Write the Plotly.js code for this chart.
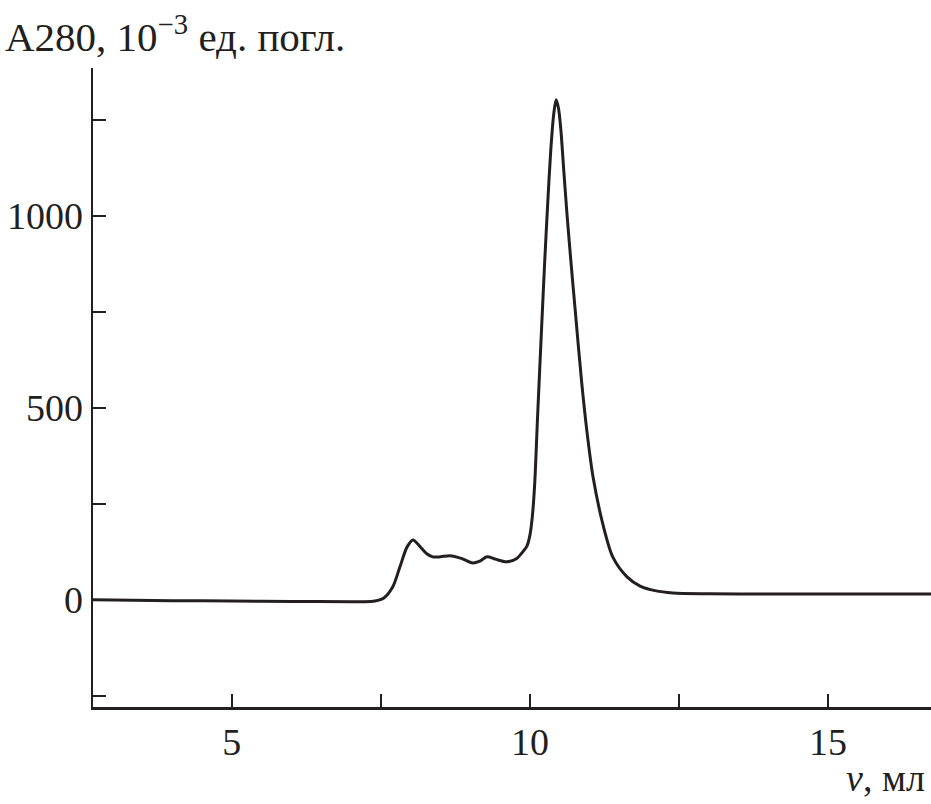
<!DOCTYPE html>
<html>
<head>
<meta charset="utf-8">
<script src="https://cdn.plot.ly/plotly-3.0.1.min.js"></script>
<style>html,body{margin:0;padding:0;background:#fff;}#chart{width:931px;height:804px;}</style>
</head>
<body>
<div id="chart"></div>
<script>
// Elution volume (ml)
const volume = [2.67, 4.0, 5.0, 6.0, 7.0, 7.2, 7.4, 7.55, 7.7, 7.82, 7.94, 8.04, 8.15, 8.27, 8.37, 8.5, 8.66, 8.85, 9.04, 9.15, 9.28, 9.42, 9.61, 9.78, 9.88, 9.95, 10.0, 10.04, 10.08, 10.13, 10.2, 10.25, 10.3, 10.35, 10.4, 10.44, 10.48, 10.52, 10.57, 10.62, 10.67, 10.72, 10.76, 10.87, 10.96, 11.06, 11.22, 11.39, 11.63, 11.85, 12.1, 12.4, 13.0, 14.0, 15.0, 16.73];
// A280, 10^-3 absorbance units
const absorbance = [0, -2, -3, -4, -5, -5, -3, 5, 34, 86, 138, 156, 140, 120, 112, 112, 115, 108, 96, 100, 112, 106, 99, 108, 125, 140, 168, 215, 300, 480, 720, 885, 1035, 1170, 1265, 1302, 1280, 1224, 1115, 1010, 915, 825, 755, 565, 435, 320, 200, 112, 60, 36, 24, 18, 16, 15, 15, 15];

const xTickVals = [5, 7.5, 10, 12.5, 15];
const xTickText = ["5", "", "10", "", "15"];
const yTickVals = [-250, 0, 250, 500, 750, 1000, 1250];
const yTickText = ["", "0", "", "500", "", "1000", ""];

const ink = "#231f20";
const font = {family: "Liberation Serif", size: 38, color: ink};
const titleFont = {family: "Liberation Serif", size: 41, color: ink};

Plotly.newPlot("chart", [{
  x: volume, y: absorbance, type: "scatter", mode: "lines",
  line: {color: ink, width: 3, shape: "spline", smoothing: 0.8},
  hoverinfo: "none"
}], {
  width: 931, height: 804,
  margin: {l: 93, r: 0, t: 68, b: 97},
  paper_bgcolor: "#fff", plot_bgcolor: "#fff",
  showlegend: false,
  font: font,
  xaxis: {
    range: [2.67, 16.73], showgrid: false, zeroline: false,
    showline: true, linecolor: ink, linewidth: 2.5,
    ticks: "inside", ticklen: 13, tickwidth: 2, tickcolor: ink,
    tickvals: xTickVals, ticktext: xTickText, tickfont: font
  },
  yaxis: {
    range: [-279, 1385], showgrid: false, zeroline: false,
    showline: true, linecolor: ink, linewidth: 2.5,
    ticks: "inside", ticklen: 13, tickwidth: 2, tickcolor: ink,
    tickvals: yTickVals, ticktext: yTickText, tickfont: font
  },
  annotations: [
    {xref: "paper", yref: "paper", x: -90/838, y: 1.0, yshift: 6, xanchor: "left", yanchor: "bottom",
     text: "A280, 10<sup>−3</sup> ед. погл.", showarrow: false, font: titleFont},
    {xref: "paper", yref: "paper", x: 1.0, y: 0, xshift: -4, yshift: -48, xanchor: "right", yanchor: "top",
     text: "<i>v</i>, мл", showarrow: false, font: font}
  ]
}, {staticPlot: true});
</script>
</body>
</html>
